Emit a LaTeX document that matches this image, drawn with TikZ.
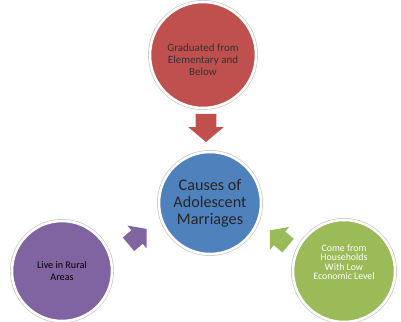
\documentclass[tikz,border=0pt]{standalone}
\usepackage{fontspec}
\setmainfont{Carlito}
\usepackage{tikz}

\definecolor{causered}{HTML}{C0504D}
\definecolor{causeblue}{HTML}{4F81BD}
\definecolor{causepurple}{HTML}{8064A2}
\definecolor{causegreen}{HTML}{9BBB59}

\tikzset{
    bubble/.style={circle, draw=white, line width=1.8pt,
        preaction={draw=black!22, line width=2.8pt},
        align=center, inner sep=0pt},
    pics/blockarrow/.style={code={
        \fill[pic actions] (-0.35,-0.26) -- (-0.02,-0.26) -- (-0.02,-0.44)
            -- (0.35,0) -- (-0.02,0.44) -- (-0.02,0.26) -- (-0.35,0.26) -- cycle;
    }}
}

\begin{document}
\begin{tikzpicture}
    \useasboundingbox (0,0) rectangle (10.025,8.025);

    % Central cause
    \node[bubble, fill=causeblue, minimum size=2.55cm,
        font=\fontsize{11.5}{12}\selectfont, text=black!85]
        (causes) at (5.25,2.95) {Causes of\\Adolescent\\Marriages};

    % Contributing factors
    \node[bubble, fill=causered, minimum size=2.65cm,
        label={[font=\fontsize{7.8}{8.4}\selectfont, text=black!80, align=center,
            yshift=-0.12cm]center:{Graduated from\\Elementary and\\Below}}]
        (education) at (5.075,6.65) {};
    \node[bubble, fill=causepurple, minimum size=2.5cm,
        font=\fontsize{7.2}{8.6}\selectfont, text=black]
        (rural) at (1.55,1.25) {Live in Rural\\Areas};
    \node[bubble, fill=causegreen, minimum size=2.55cm,
        label={[font=\fontsize{7}{6.6}\selectfont, text=white, align=center,
            yshift=0.22cm]center:{Come from\\Households\\With Low\\Economic Level}}]
        (income) at (8.6,1.25) {};

    % Block arrows towards the centre
    \pic[fill=causered, rotate=-90] at (5.15,4.825) {blockarrow};
    \pic[fill=causepurple, rotate=40, scale=0.85] at (3.44,2.11) {blockarrow};
    \pic[fill=causegreen, rotate=140, scale=0.85] at (6.975,2.075) {blockarrow};
\end{tikzpicture}
\end{document}
